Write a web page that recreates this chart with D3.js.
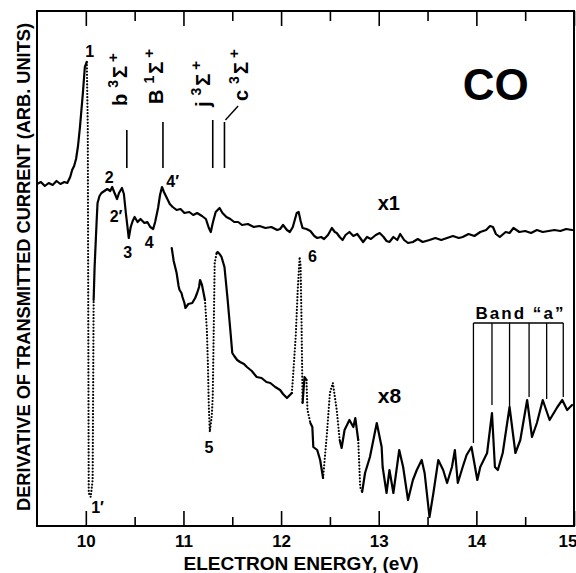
<!DOCTYPE html>
<html>
<head>
<meta charset="utf-8">
<script src="https://cdn.jsdelivr.net/npm/d3@7"></script>
<style>
  body { margin: 0; background: #fff; }
  text { font-family: "Liberation Sans", Arial, sans-serif; font-weight: bold; fill: #000; }
</style>
</head>
<body>
<svg id="chart" width="576" height="573"></svg>
<script>
// energy (eV), signal (arb. units), 1 = dotted segment leading to this point
const traceX1 = [
  [9.50,68.4,0],[9.54,68.8,0],[9.58,68.0,0],[9.62,68.6,0],[9.66,68.2,0],[9.70,69.0,0],[9.74,68.4,0],[9.78,68.8,0],
  [9.81,68.6,0],[9.84,69.8,0],[9.86,71.2,0],[9.88,72.0,0],[9.90,73.4,0],[9.92,76.0,0],[9.94,79.8,0],[9.97,86.6,0],
  [9.99,91.8,0],[10.01,92.8,0],
  [10.02,80.0,1],[10.03,6.6,1],[10.05,5.8,1],[10.07,9.2,1],[10.08,45.2,1],
  [10.09,51.8,0],[10.11,60.6,0],[10.12,64.6,0],[10.14,66.0,0],[10.16,66.6,0],[10.19,67.0,0],[10.22,67.4,0],
  [10.25,67.0,0],[10.27,67.8,0],[10.29,66.8,0],[10.32,65.4,0],[10.34,66.6,0],[10.37,67.6,0],[10.39,66.4,0],
  [10.41,62.6,0],[10.44,57.6,0],[10.46,59.8,0],[10.48,61.0,0],[10.50,61.8,0],[10.53,60.8,0],[10.56,61.4,0],
  [10.60,60.6,0],[10.63,60.8,0],[10.66,59.8,0],[10.69,59.4,0],[10.71,60.8,0],[10.74,63.6,0],[10.76,66.2,0],
  [10.78,67.8,0],[10.80,66.8,0],[10.83,65.6,0],[10.86,64.4,0],[10.89,63.8,0],[10.93,63.2,0],[10.97,63.4,0],
  [11.01,62.6,0],[11.06,62.8,0],[11.10,62.2,0],[11.14,62.6,0],[11.19,62.0,0],[11.23,61.4,0],[11.26,59.6,0],
  [11.28,58.8,0],[11.30,60.6,0],[11.33,62.8,0],[11.37,63.6,0],[11.40,62.6,0],[11.44,61.8,0],[11.48,61.4,0],
  [11.52,60.8,0],[11.56,60.8,0],[11.60,60.2,0],[11.66,60.4,0],[11.72,59.8,0],[11.78,60.0,0],[11.84,59.6,0],
  [11.90,59.8,0],[11.96,59.2,0],[11.99,59.4,0],[12.02,60.2,0],[12.06,59.2,0],[12.09,58.8,0],[12.12,59.8,0],
  [12.16,62.6,0],[12.18,62.8,0],[12.20,61.0,0],[12.22,59.6,0],[12.26,59.4,0],[12.30,59.0,0],[12.34,58.0,0],
  [12.37,57.6,0],[12.41,57.8,0],[12.44,57.4,0],[12.48,58.2,0],[12.52,59.6,0],[12.55,58.8,0],[12.57,58.6,0],
  [12.60,57.8,0],[12.63,57.2,0],[12.66,58.2,0],[12.70,58.8,0],[12.74,58.0,0],[12.78,58.4,0],[12.81,57.6,0],
  [12.84,56.8,0],[12.88,57.8,0],[12.92,57.4,0],[12.97,58.2,0],[13.01,58.6,0],[13.05,57.8,0],[13.08,57.0,0],
  [13.11,56.8,0],[13.15,57.8,0],[13.19,57.2,0],[13.22,58.4,0],[13.26,57.2,0],[13.30,56.6,0],[13.35,56.8,0],
  [13.40,57.4,0],[13.45,56.8,0],[13.52,57.2,0],[13.58,57.6,0],[13.64,57.2,0],[13.70,57.6,0],[13.76,58.0,0],
  [13.82,57.6,0],[13.86,57.8,0],[13.92,58.4,0],[13.98,58.0,0],[14.04,58.8,0],[14.10,59.2,0],[14.14,60.0,0],
  [14.17,59.8,0],[14.20,58.4,0],[14.24,57.8,0],[14.30,58.8,0],[14.34,58.6,0],[14.38,59.6,0],[14.44,58.8,0],
  [14.50,59.0,0],[14.56,58.6,0],[14.62,59.2,0],[14.68,58.8,0],[14.74,59.0,0],[14.80,59.2,0],[14.86,59.0,0],
  [14.92,59.4,0],[14.98,59.2,0]
];

const traceX8 = [
  [10.88,55.6,0],[10.90,53.0,0],[10.93,50.6,0],[10.95,48.0,0],[10.96,47.2,0],[10.98,46.6,0],[10.99,45.8,0],
  [11.01,44.6,0],[11.02,43.6,0],[11.05,44.4,0],[11.09,44.6,0],[11.12,45.6,0],[11.14,46.6,0],[11.16,47.8,0],
  [11.17,49.2,0],[11.19,48.2,0],[11.22,45.2,0],
  [11.24,39.2,1],[11.25,32.6,1],[11.26,23.8,1],[11.27,18.8,1],[11.29,22.0,1],[11.30,25.8,1],[11.32,52.6,1],[11.34,54.6,1],
  [11.35,54.8,0],[11.37,54.4,0],[11.39,53.8,0],[11.42,51.8,0],[11.45,45.8,0],[11.48,39.2,0],[11.50,34.6,0],
  [11.52,34.0,0],[11.55,33.2,0],[11.58,32.8,0],[11.62,32.4,0],[11.65,31.8,0],[11.70,31.0,0],[11.75,29.8,0],
  [11.80,29.6,0],[11.85,28.8,0],[11.89,28.6,0],[11.94,27.8,0],[11.99,27.2,0],[12.02,26.4,0],[12.06,25.6,0],
  [12.09,26.2,0],[12.11,26.6,0],
  [12.12,29.2,1],[12.15,38.0,1],[12.17,47.0,1],[12.19,53.8,1],[12.20,52.0,1],[12.21,40.0,1],[12.22,24.6,1],
  [12.24,29.8,0],[12.26,29.2,0],
  [12.27,23.2,1],[12.30,20.6,1],
  [12.32,19.8,0],[12.33,15.8,0],[12.37,15.2,0],[12.40,13.2,0],[12.43,9.6,0],
  [12.47,18.6,1],[12.50,26.6,1],[12.53,28.6,1],[12.57,23.2,1],[12.60,17.2,1],
  [12.62,15.6,0],[12.65,19.2,0],[12.70,21.2,0],[12.74,19.8,0],[12.76,21.6,0],[12.79,17.2,0],
  [12.81,7.8,1],[12.83,6.8,1],
  [12.86,10.6,0],[12.91,13.8,0],[12.98,20.6,0],[13.03,15.8,0],[13.04,11.8,0],[13.08,6.6,0],[13.11,11.2,0],
  [13.15,6.6,0],[13.21,15.2,0],[13.25,11.8,0],[13.30,5.2,0],[13.35,9.2,0],[13.39,11.2,0],[13.44,13.2,0],
  [13.47,10.6,0],[13.52,1.8,0],[13.56,6.6,0],[13.61,13.2,0],[13.66,11.2,0],[13.70,8.6,0],[13.75,11.8,0],
  [13.78,15.2,0],[13.81,8.6,0],[13.86,11.8,0],[13.90,14.2,0],[13.95,15.8,0],[14.01,9.2,0],[14.04,11.8,0],
  [14.11,14.6,0],[14.16,22.6,0],[14.19,11.8,0],[14.22,11.2,0],[14.27,14.6,0],[14.34,23.8,0],[14.40,14.6,0],
  [14.45,17.2,0],[14.52,25.2,0],[14.57,17.8,0],[14.62,20.6,0],[14.68,25.2,0],[14.75,21.2,0],[14.83,23.8,0],
  [14.88,25.2,0],[14.93,23.2,0],[14.98,24.2,0]
];

const majorTicks = [10, 11, 12, 13, 14, 15];
const minorTicks = [10.5, 11.5, 12.5, 13.5, 14.5];

// band "a" members: energy, signal where the marker meets the trace
const bandA = [[13.97,16.6],[14.16,24.2],[14.34,23.8],[14.54,25.8],[14.72,25.4],[14.89,25.8]];
const bandLevel = 40.6;

// excited states of CO marked above the x1 trace
const states = [
  {name: "b", mult: "3", e: 10.42, top: 79.2},
  {name: "B", mult: "1", e: 10.79, top: 80.8},
  {name: "j", mult: "3", e: 11.30, top: 81.2},
  {name: "c", mult: "3", e: 11.42, top: 80.8}
];
const stateBottom = 71.6;

// feature labels
const peakLabels = [
  {t: "1", e: 10.04, v: 93.8},
  {t: "2", e: 10.24, v: 68.6},
  {t: "2\u2032", e: 10.31, v: 60.8},
  {t: "3", e: 10.43, v: 53.6},
  {t: "4", e: 10.65, v: 55.6},
  {t: "4\u2032", e: 10.89, v: 67.8},
  {t: "5", e: 11.26, v: 14.6},
  {t: "6", e: 12.32, v: 52.8},
  {t: "1\u2032", e: 10.12, v: 2.6}
];

const W = 576, H = 573;
const margin = {top: 11, right: 2, bottom: 47, left: 37};
const iw = W - margin.left - margin.right;
const ih = H - margin.top - margin.bottom;

const svg = d3.select("#chart");
const g = svg.append("g").attr("transform", `translate(${margin.left},${margin.top})`);

const x = d3.scaleLinear().domain([9.5, 15]).range([0, iw]);
const y = d3.scaleLinear().domain([0, 103]).range([ih, 0]);

// axes: ticks point into the plot on top and bottom
const bottomMajor = g.append("g").attr("transform", `translate(0,${ih})`)
  .call(d3.axisBottom(x).tickValues(majorTicks).tickSize(-15).tickSizeOuter(0)
    .tickPadding(9).tickFormat(d3.format("d")));
const bottomMinor = g.append("g").attr("transform", `translate(0,${ih})`)
  .call(d3.axisBottom(x).tickValues(minorTicks).tickSize(-9).tickSizeOuter(0).tickFormat(""));
const topMajor = g.append("g")
  .call(d3.axisTop(x).tickValues(majorTicks).tickSize(-15).tickSizeOuter(0).tickFormat(""));
const topMinor = g.append("g")
  .call(d3.axisTop(x).tickValues(minorTicks).tickSize(-10).tickSizeOuter(0).tickFormat(""));

[bottomMajor, bottomMinor, topMajor, topMinor].forEach(a => {
  a.select(".domain").remove();
  a.selectAll(".tick line").attr("stroke", "#000").attr("stroke-width", 1.6);
});
bottomMajor.selectAll(".tick text")
  .attr("font-size", 17).attr("font-family", "Liberation Sans, Arial, sans-serif")
  .attr("font-weight", "bold").attr("fill", "#000");
// last label sits on the right edge: keep it inside the page
bottomMajor.selectAll(".tick text").filter(d => d === 15)
  .attr("text-anchor", "end").attr("x", 3);

g.append("rect")
  .attr("x", 0).attr("y", 0).attr("width", iw).attr("height", ih)
  .attr("fill", "none").attr("stroke", "#000").attr("stroke-width", 2);

// axis titles
svg.append("text")
  .attr("transform", "translate(30,267) rotate(-90)")
  .attr("text-anchor", "middle")
  .attr("font-size", 19)
  .attr("textLength", 488).attr("lengthAdjust", "spacingAndGlyphs")
  .text("DERIVATIVE OF TRANSMITTED CURRENT (ARB. UNITS)");

svg.append("text")
  .attr("x", 301).attr("y", 570)
  .attr("text-anchor", "middle")
  .attr("font-size", 19)
  .attr("textLength", 235).attr("lengthAdjust", "spacingAndGlyphs")
  .text("ELECTRON ENERGY, (eV)");

// split a trace into runs of solid and dotted segments
function runs(pts) {
  const out = [];
  let cur = null;
  for (let i = 1; i < pts.length; i++) {
    const kind = pts[i][2] ? "dot" : "solid";
    if (!cur || cur.kind !== kind) {
      cur = {kind, pts: [pts[i - 1]]};
      out.push(cur);
    }
    cur.pts.push(pts[i]);
  }
  return out;
}

const line = d3.line().x(d => x(d[0])).y(d => y(d[1]));

[traceX1, traceX8].forEach(tr => {
  g.selectAll(null)
    .data(runs(tr))
    .enter().append("path")
      .attr("d", d => line(d.pts))
      .attr("fill", "none")
      .attr("stroke", "#000")
      .attr("stroke-linejoin", "round")
      .attr("stroke-width", d => d.kind === "dot" ? 2.2 : 2.2)
      .attr("stroke-linecap", "round")
      .attr("stroke-dasharray", d => d.kind === "dot" ? "0 3.2" : null);
});

// state markers
g.selectAll("line.state")
  .data(states)
  .enter().append("line")
    .attr("class", "state")
    .attr("x1", d => x(d.e)).attr("x2", d => x(d.e))
    .attr("y1", d => y(d.top)).attr("y2", y(stateBottom))
    .attr("stroke", "#000").attr("stroke-width", 1.6);

// short leader from the c line to its label
g.append("line")
  .attr("x1", x(11.43)).attr("y1", y(81.2))
  .attr("x2", x(11.56)).attr("y2", y(84.0))
  .attr("stroke", "#000").attr("stroke-width", 1.4);

// rotated state names: baseline offset from the marker and start height
const stateText = [
  {dx: 0, v: 84.0},
  {dx: 0, v: 84.4},
  {dx: -3, v: 83.8},
  {dx: 24, v: 85.0}
];
states.forEach((s, i) => {
  const t = g.append("text")
    .attr("transform", `translate(${x(s.e) + stateText[i].dx},${y(stateText[i].v)}) rotate(-90)`)
    .attr("font-size", 20);
  t.append("tspan").text(s.name);
  t.append("tspan").attr("font-size", 14).attr("dx", 6).attr("dy", -9).text(s.mult);
  t.append("tspan").attr("dx", 2).attr("dy", 9).text("\u03A3");
  t.append("tspan").attr("font-size", 15).attr("dx", 4).attr("dy", -9).text("+");
});

// peak labels
g.selectAll("text.peak")
  .data(peakLabels)
  .enter().append("text")
    .attr("class", "peak")
    .attr("x", d => x(d.e)).attr("y", d => y(d.v))
    .attr("text-anchor", "middle")
    .attr("font-size", 16)
    .text(d => d.t);

// gain labels and title
g.append("text").attr("x", x(12.99)).attr("y", y(63.2)).attr("font-size", 20).text("x1");
g.append("text").attr("x", x(12.99)).attr("y", y(24.6)).attr("font-size", 21).text("x8");
g.append("text").attr("x", x(13.86)).attr("y", y(85.2)).attr("font-size", 44).text("CO");

// band "a" bracket
g.append("path")
  .attr("d", d3.line()([[x(bandA[0][0]), y(bandLevel)], [x(bandA[bandA.length - 1][0]), y(bandLevel)]]))
  .attr("stroke", "#000").attr("stroke-width", 1.6);
g.selectAll("line.band")
  .data(bandA)
  .enter().append("line")
    .attr("class", "band")
    .attr("x1", d => x(d[0])).attr("x2", d => x(d[0]))
    .attr("y1", y(bandLevel)).attr("y2", d => y(d[1]))
    .attr("stroke", "#000").attr("stroke-width", 1.3);
g.append("text")
  .attr("x", x(13.99)).attr("y", y(41.4))
  .attr("font-size", 17)
  .attr("textLength", 88).attr("lengthAdjust", "spacing")
  .text("Band \u201Ca\u201D");
</script>
</body>
</html>
